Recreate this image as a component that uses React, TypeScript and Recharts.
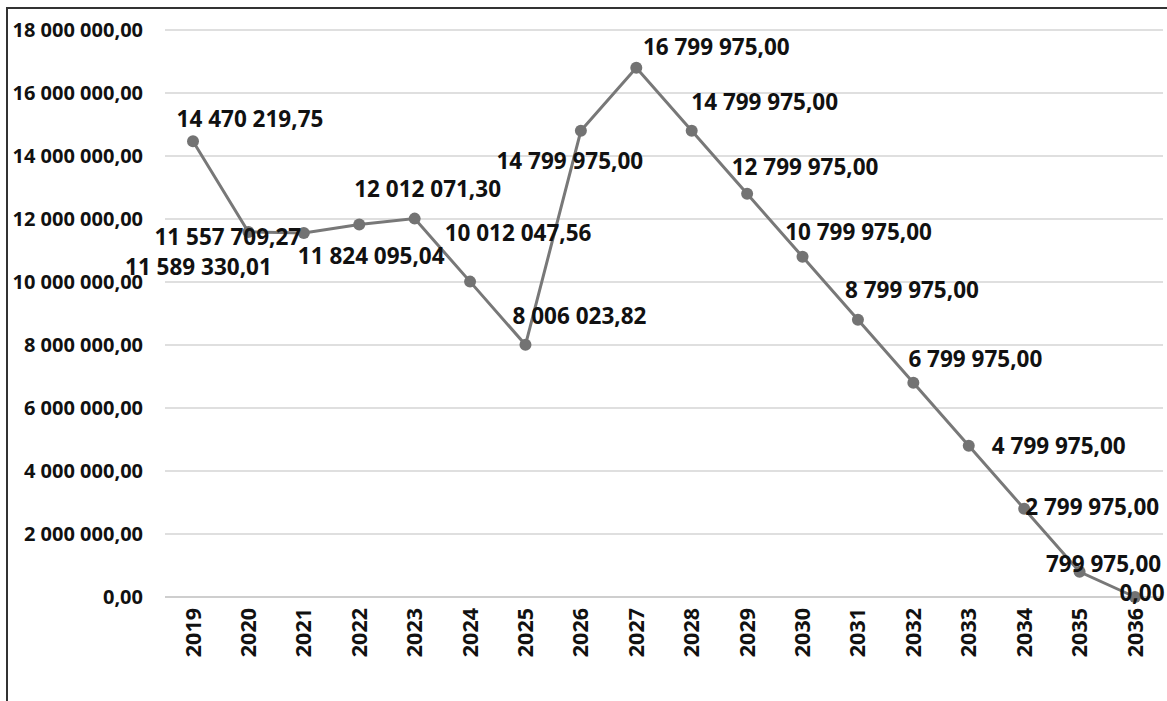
import React from "react";
import { LineChart, Line, XAxis, YAxis, CartesianGrid, LabelList } from "recharts";

const years = [
  "2019", "2020", "2021", "2022", "2023", "2024", "2025", "2026", "2027",
  "2028", "2029", "2030", "2031", "2032", "2033", "2034", "2035", "2036",
];

const amounts = [
  14470219.75, 11589330.01, 11557709.27, 11824095.04, 12012071.3, 10012047.56,
  8006023.82, 14799975.0, 16799975.0, 14799975.0, 12799975.0, 10799975.0,
  8799975.0, 6799975.0, 4799975.0, 2799975.0, 799975.0, 0.0,
];

const yTicks = [0, 2000000, 4000000, 6000000, 8000000, 10000000, 12000000, 14000000, 16000000, 18000000];

// where each data label sits relative to its point (centre dx, dy) — labels were dragged by hand
const labelOffsets: [number, number][] = [
  [57, -23], [-50, 35], [-76, 4], [12, 31], [13, -30], [48, -49],
  [54, -29], [-11, 30], [80, -21], [73, -29], [58, -27], [56, -25],
  [54, -30], [62, -24], [90, 0], [68, -2], [24, -8], [7, -5],
];

const data = years.map((year, i) => ({ year, value: amounts[i] }));

const fmt = (v: number) => {
  const [int, dec] = v.toFixed(2).split(".");
  return int.replace(/\B(?=(\d{3})+(?!\d))/g, " ") + "," + dec;
};

const FONT = "'Open Sans', 'Noto Sans', sans-serif";

const YearTick = (props: any) => {
  const { x, y, payload } = props;
  return (
    <text
      x={0}
      y={0}
      transform={`translate(${x},${y}) rotate(-90)`}
      textAnchor="end"
      dy="0.35em"
      fontFamily={FONT}
      fontWeight={700}
      fontSize={21.5}
      fill="#111"
    >
      {payload.value}
    </text>
  );
};

const ValueLabel = (props: any) => {
  const { x, y, value, index } = props;
  const [dx, dy] = labelOffsets[index] || [0, -20];
  return (
    <text
      x={x + dx}
      y={y + dy}
      textAnchor="middle"
      dominantBaseline="central"
      fontFamily={FONT}
      fontWeight={700}
      fontSize={22.5}
      fill="#111"
    >
      {fmt(value)}
    </text>
  );
};

export default function App() {
  return (
    <div
      style={{
        position: "absolute",
        left: 0,
        top: 0,
        width: 1167,
        height: 701,
        overflow: "hidden",
        background: "#fff",
      }}
    >
      <div style={{ position: "absolute", left: 6, top: 7, width: 2, height: 694, background: "#333" }} />
      <div style={{ position: "absolute", left: 6, top: 7, width: 1161, height: 2, background: "#333" }} />
      <LineChart
        width={1167}
        height={701}
        data={data}
        margin={{ top: 30, right: 4, bottom: 0, left: 0 }}
      >
        <CartesianGrid vertical={false} stroke="#d4d4d4" strokeWidth={1.5} />
        <XAxis
          dataKey="year"
          height={104}
          padding={{ left: 28, right: 28 }}
          tickLine={false}
          tickSize={0}
          tickMargin={11}
          axisLine={{ stroke: "#c8c8c8", strokeWidth: 1.5 }}
          tick={<YearTick />}
          interval={0}
        />
        <YAxis
          width={165}
          domain={[0, 18000000]}
          ticks={yTicks}
          tickFormatter={fmt}
          axisLine={false}
          tickLine={false}
          tickSize={0}
          tickMargin={22}
          tick={{ fontFamily: FONT, fontWeight: 700, fontSize: 20, fill: "#111" }}
        />
        <Line
          dataKey="value"
          stroke="#787878"
          strokeWidth={3}
          dot={{ r: 6, fill: "#737373", stroke: "none" }}
          isAnimationActive={false}
        >
          <LabelList dataKey="value" content={<ValueLabel />} />
        </Line>
      </LineChart>
    </div>
  );
}
